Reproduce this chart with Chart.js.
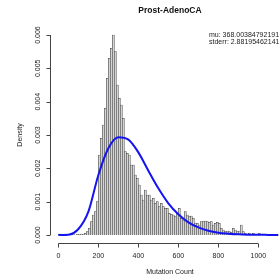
<!DOCTYPE html>
<html><head><meta charset="utf-8">
<script src="https://cdn.jsdelivr.net/npm/chart.js@4"></script>
<style>html,body{margin:0;padding:0;background:#fff;overflow:hidden}</style>
</head><body>
<canvas id="c" width="279" height="276"></canvas>
<script>
const chartTitle = "Prost-AdenoCA";
const xTitle = "Mutation Count";
const yTitle = "Density";
const annotLines = ["mu: 368.003847921913", "stderr: 2.881954621415"];

const binWidth = 10;
const binStarts = [0,10,20,30,40,50,60,70,80,90,100,110,120,130,140,150,160,170,180,190,
200,210,220,230,240,250,260,270,280,290,300,310,320,330,340,350,360,370,380,390,
400,410,420,430,440,450,460,470,480,490,500,510,520,530,540,550,560,570,580,590,
600,610,620,630,640,650,660,670,680,690,700,710,720,730,740,750,760,770,780,790,
800,810,820,830,840,850,860,870,880,890,900,910,920,930,940,950,960,970,980,990,
1000,1010,1020,1030,1040];
const density = [0.00003,0.00003,0,0.00003,0.00002,0,0,0.00002,0,0.00002,
0.00002,0.00003,0.00003,0.00005,0.0001,0.0002,0.0004,0.0006,0.0007,0.001,
0.0024,0.0029,0.0033,0.0038,0.0047,0.0053,0.0056,0.0060,0.0055,0.0045,
0.0041,0.0039,0.0035,0.0025,0.00245,0.0024,0.0021,0.0021,0.0018,0.0017,
0.0015,0.0012,0.00105,0.00135,0.0012,0.0012,0.00105,0.0011,0.00095,0.001,
0.00085,0.00095,0.00085,0.0008,0.0008,0.00065,0.00062,0.0006,0.00055,0.00065,
0.0008,0.0005,0.00045,0.0007,0.0006,0.00055,0.00057,0.0005,0.00036,0.00035,
0.0003,0.0004,0.0004,0.00042,0.0004,0.00038,0.0004,0.0003,0.00035,0.00038,
0.00035,0.0002,0.00015,0.0001,0.00012,0.0001,0.00008,0.0002,0.00015,0.0001,
0.00012,0.0003,0.0001,0.00005,0.00003,0.00005,0.00002,0.00005,0.00003,0,
0.00005,0,0.00003,0,0];

const curveX = [0,50,100,150,200,250,300,350,400,450,500,550,600,650,700,750,800,850,900,950,1000,1050,1100];
const curveY = [0,0.00001,0.00018,0.0007,0.0018,0.0026,0.00293,0.00286,0.00248,0.00193,0.0014,0.00095,0.00062,0.00038,0.00023,0.00013,0.00007,0.00004,0.00002,0.00001,0.000006,0.000003,0];

const xTicks = [0,200,400,600,800,1000];
const yTicks = [0,0.001,0.002,0.003,0.004,0.005,0.006];
const yTickLabels = ["0.000","0.001","0.002","0.003","0.004","0.005","0.006"];

const bars = binStarts.map((s,i)=>({x:s+binWidth/2, y:density[i]}));
const curve = curveX.map((x,i)=>({x:x, y:curveY[i]}));

const rAxes = {
  id:'rAxes',
  afterDraw(chart){
    const ctx = chart.ctx, xs = chart.scales.x, ys = chart.scales.y;
    const a = chart.chartArea;
    ctx.save();
    ctx.strokeStyle = '#444'; ctx.lineWidth = 1; ctx.fillStyle = '#222';
    const yAx = Math.round(a.bottom) + 0.5;
    ctx.beginPath();
    ctx.moveTo(xs.getPixelForValue(xTicks[0]), yAx);
    ctx.lineTo(xs.getPixelForValue(xTicks[xTicks.length-1]), yAx);
    xTicks.forEach(t=>{const px=Math.round(xs.getPixelForValue(t))+0.5; ctx.moveTo(px,yAx); ctx.lineTo(px,yAx+4);});
    ctx.stroke();
    ctx.font = '7px "Liberation Sans", Arial, sans-serif';
    ctx.textAlign='center'; ctx.textBaseline='middle';
    xTicks.forEach(t=>ctx.fillText(String(t), xs.getPixelForValue(t), yAx+13));
    const xAx = Math.round(a.left) + 0.5;
    ctx.beginPath();
    ctx.moveTo(xAx, ys.getPixelForValue(yTicks[0]));
    ctx.lineTo(xAx, ys.getPixelForValue(yTicks[yTicks.length-1]));
    yTicks.forEach(t=>{const py=Math.round(ys.getPixelForValue(t))+0.5; ctx.moveTo(xAx,py); ctx.lineTo(xAx-4,py);});
    ctx.stroke();
    yTicks.forEach((t,i)=>{
      ctx.save(); ctx.translate(xAx-12, ys.getPixelForValue(t)); ctx.rotate(-Math.PI/2);
      ctx.fillText(yTickLabels[i],0,0); ctx.restore();
    });
    ctx.fillStyle = '#111';
    ctx.font = 'bold 8.5px "Liberation Sans", Arial, sans-serif';
    ctx.fillText(chartTitle, 170, 11);
    ctx.fillStyle = '#222';
    ctx.font = '7px "Liberation Sans", Arial, sans-serif';
    ctx.fillText(xTitle, 170, 272);
    ctx.save(); ctx.translate(20, 135); ctx.rotate(-Math.PI/2); ctx.fillText(yTitle,0,0); ctx.restore();
    ctx.textAlign='left';
    ctx.fillText(annotLines[0], 209, 35.5);
    ctx.fillText(annotLines[1], 209, 42.5);
    ctx.restore();
  }
};

new Chart(document.getElementById('c'), {
  type:'bar',
  data:{datasets:[
    {type:'line', data:curve, borderColor:'#1414f0', borderWidth:2, pointRadius:0, cubicInterpolationMode:'monotone', fill:false, order:1},
    {type:'bar', data:bars, backgroundColor:'#d4d4d4', borderColor:'#333', borderWidth:0.5, borderSkipped:'start', barPercentage:1, categoryPercentage:1, grouped:false, order:2}
  ]},
  options:{
    responsive:false, animation:false, devicePixelRatio:1,
    layout:{padding:{left:50,right:0,top:27,bottom:33}},
    scales:{
      x:{type:'linear', min:-42, max:1103.5, offset:false, display:false},
      y:{type:'linear', min:-0.00024, max:0.00624, display:false}
    },
    plugins:{legend:{display:false}, tooltip:{enabled:false}, title:{display:false}}
  },
  plugins:[rAxes]
});
</script>
</body></html>
